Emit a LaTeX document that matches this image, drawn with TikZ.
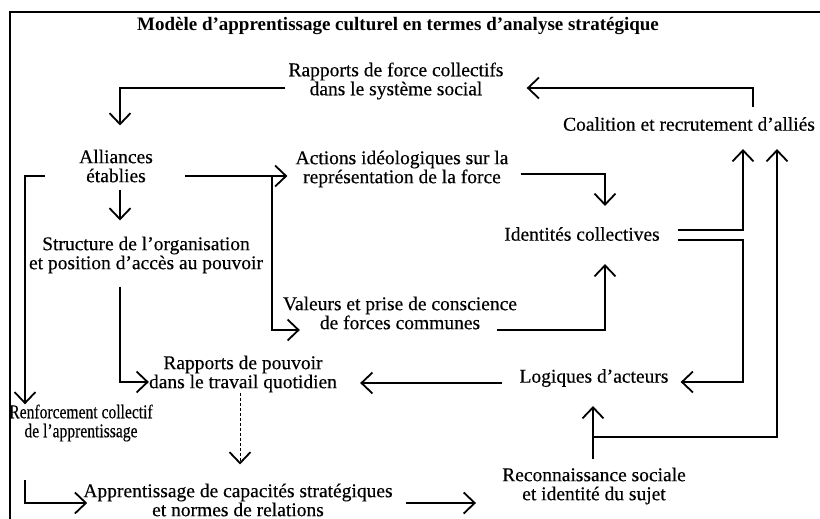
\documentclass[tikz,border=0pt]{standalone}
\usepackage{fontspec}
\setmainfont{Liberation Serif}[FakeBold=0.35]
\newfontfamily\narrowserif{Liberation Serif}[FakeStretch=0.8, FakeBold=0.35, Ligatures=TeX]
\newfontfamily\titleserif{Liberation Serif Bold}[Ligatures=TeX]
\usetikzlibrary{arrows.meta}
\begin{document}
\begin{tikzpicture}[x=1pt,y=-1pt,
  lbl/.style={font=\fontsize{19.5}{19}\selectfont, align=center, inner sep=0pt},
  narrowlbl/.style={lbl, font=\narrowserif\fontsize{19.5}{19}\selectfont},
  ttl/.style={font=\titleserif\fontsize{19}{19}\selectfont, inner sep=0pt},
  link/.style={line width=1.8pt},
  arr/.style={link, -{Straight Barb[length=11pt,width=21pt]}},
  dlink/.style={line width=1pt, densely dashed, -{Straight Barb[length=11pt,width=21pt,line width=1.8pt]}},
  frame/.style={line width=2.8pt}]
\useasboundingbox (0,0) rectangle (820,519);
% outer frame (left and top rules)
\draw[frame] (10,519) -- (10,12) -- (820,12);

% labels
\node[ttl] (title) at (398,26) {Modèle d'apprentissage culturel en termes d'analyse stratégique};
\node[lbl] (rapf) at (396,81) {Rapports de force collectifs\\dans le système social};
\node[lbl] (coal) at (689,124) {Coalition et recrutement d'alliés};
\node[lbl] (alli) at (116,166) {Alliances\\établies};
\node[lbl] (acti) at (402,169) {Actions idéologiques sur la\\représentation de la force};
\node[lbl] (iden) at (582,234) {Identités collectives};
\node[lbl] (stru) at (146,255) {Structure de l'organisation\\et position d'accès au pouvoir};
\node[lbl] (vale) at (400,313) {Valeurs et prise de conscience\\de forces communes};
\node[lbl] (rapp) at (243,374) {Rapports de pouvoir\\dans le travail quotidien};
\node[lbl] (logi) at (594,378) {Logiques d'acteurs};
\node[narrowlbl] (renf) at (81,423) {Renforcement collectif\\de l'apprentissage};
\node[lbl] (reco) at (594,486) {Reconnaissance sociale\\et identité du sujet};
\node[lbl] (appr) at (238,500) {Apprentissage de capacités stratégiques\\et normes de relations};

% bend points of the connectors
\coordinate (kA) at (753,88);
\coordinate (kB) at (120,88);
\coordinate (kC) at (272,176);
\coordinate (kC2) at (272,330);
\coordinate (kE) at (25,176);
\coordinate (kF) at (120,382);
\coordinate (kG) at (25,503);
\coordinate (kH) at (240,430);
\coordinate (kI) at (0,383);
\coordinate (kJ) at (605,174);
\coordinate (kK) at (605,330);
\coordinate (kL) at (743,230);
\coordinate (kM1) at (743,240);
\coordinate (kM2) at (743,382);
\coordinate (kN) at (593,437);
\coordinate (kN2) at (777,437);
\coordinate (kO) at (0,503);

% connectors
\draw[arr, shorten <=10pt, shorten >=23pt] (kA |- coal.north) -- (kA) -- (kA -| rapf.east);
\draw[arr, shorten <=3pt, shorten >=24pt] (kB -| rapf.west) -- (kB) -- (kB |- alli.north);
\draw[arr, shorten <=32pt, shorten >=8pt] (kC -| alli.east) -- (kC -| acti.west);
\draw[arr] (kC) -- (kC2) -- ([xshift=17pt]kC2 -| vale.west);
\draw[arr, shorten <=7pt, shorten >=16pt] (alli.south -| kB) -- (stru.north -| kB);
\draw[arr, shorten <=34pt] (kE -| alli.west) -- (kE) -- (kE |- renf.north);
\draw[arr, shorten <=13pt] (stru.south -| kB) -- (kF) -- (kF -| rapp.west);
\draw[arr, shorten <=38pt] (renf.south -| kE) -- (kG) -- ([xshift=4pt]kG -| appr.west);
\draw[dlink, shorten >=19pt] (rapp.south -| kH) -- (appr.north -| kH);
\draw[arr, shorten <=17pt, shorten >=23pt] (kI -| logi.west) -- (kI -| rapp.east);
\draw[arr, shorten <=12pt, shorten >=21pt] (kJ -| acti.east) -- (kJ) -- (kJ |- iden.north);
\draw[arr, shorten >=23pt] ([xshift=-20pt]kK -| vale.east) -- (kK) -- (kK |- iden.south);
\draw[arr, shorten <=18pt, shorten >=18pt] (kL -| iden.east) -- (kL) -- (kL |- coal.south);
\draw[arr, shorten <=18pt, shorten >=12pt] (kM1 -| iden.east) -- (kM1) -- (kM2) -- (kM2 -| logi.east);
\draw[arr, shorten <=8pt, shorten >=19pt] (reco.north -| kN) -- (kN |- logi.south);
\draw[arr, shorten >=18pt] (kN) -- (kN2) -- (kN2 |- coal.south);
\draw[arr, shorten <=13pt, shorten >=26pt] (kO -| appr.east) -- (kO -| reco.west);
\end{tikzpicture}
\end{document}
